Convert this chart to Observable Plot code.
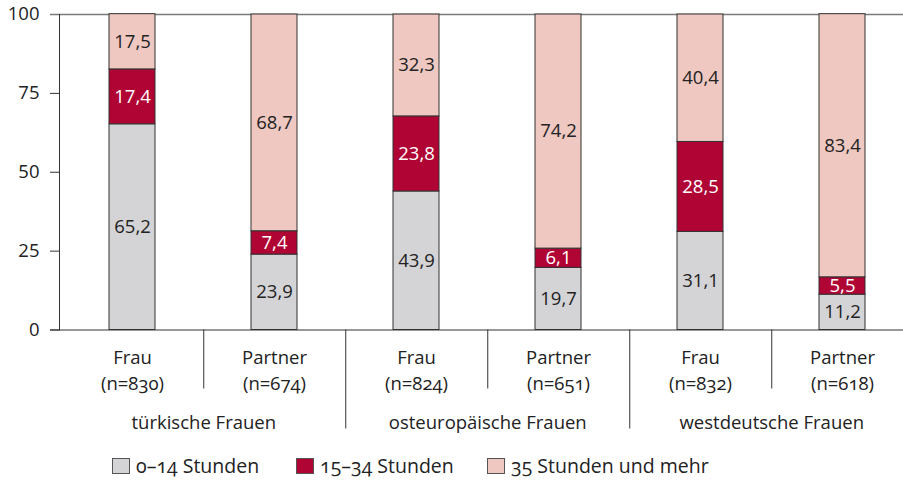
<!DOCTYPE html>
<html>
<head>
<meta charset="utf-8">
<script src="https://cdn.jsdelivr.net/npm/d3@7"></script>
<script src="https://cdn.jsdelivr.net/npm/@observablehq/plot@0.6"></script>
<style>
  html, body { margin: 0; padding: 0; background: #fff; }
  body { width: 903px; height: 480px; overflow: hidden; font-family: "Open Sans", sans-serif; color: #222; }
  .onum { font-variant-numeric: oldstyle-nums; font-feature-settings: "onum" 1; }
  #legend { position: relative; height: 35px; font-size: 19.5px; }
  .item { position: absolute; top: 3px; display: flex; align-items: center; height: 35px; }
  .sw { width: 18px; height: 16px; box-sizing: border-box; border: 1px solid #555; margin-right: 6px; }
</style>
</head>
<body>
<div id="chart"></div>
<div id="legend"></div>
<script>
const groups = ["türkische Frauen", "osteuropäische Frauen", "westdeutsche Frauen"];
const persons = ["Frau", "Partner"];
const ns = ["830", "674", "824", "651", "832", "618"];
const seriesNames = ["0–14 Stunden", "15–34 Stunden", "35 Stunden und mehr"];
const seriesColors = ["#d4d4d6", "#b00435", "#eec8c1"];
const seriesTextColors = ["#222", "#fff", "#222"];
const h0_14 = [65.2, 23.9, 43.9, 19.7, 31.1, 11.2];
const h15_34 = [17.4, 7.4, 23.8, 6.1, 28.5, 5.5];
const h35 = [17.5, 68.7, 32.3, 74.2, 40.4, 83.4];
const yTicks = [0, 25, 50, 75, 100];

const cats = [];
groups.forEach((g, gi) => persons.forEach((p, pi) => cats.push({key: g + "|" + p, group: g, person: p, n: ns[gi * 2 + pi], first: pi === 0})));
const seriesVals = [h0_14, h15_34, h35];
const data = [];
cats.forEach((c, i) => seriesVals.forEach((arr, si) => data.push({cat: c.key, s: seriesNames[si], v: arr[i]})));
const fmt = v => d3.format(".1f")(v).replace(".", ",");

const W = 903, H = 445, mTop = 14, plotBottom = 329.5;
const xRange = [59, 914];
const step = (xRange[1] - xRange[0]) / cats.length;
const font = "\"Open Sans\", sans-serif";

const chart = Plot.plot({
  width: W, height: H,
  marginLeft: 59, marginRight: 0, marginTop: mTop, marginBottom: H - plotBottom,
  style: {fontFamily: font, fontSize: "18px", color: "#222", background: "#fff"},
  x: {type: "band", domain: cats.map(c => c.key), range: xRange, paddingInner: 0.677, paddingOuter: 0.3385, axis: null},
  y: {domain: [0, 100], ticks: yTicks, label: null},
  color: {domain: seriesNames, range: seriesColors},
  marks: [
    Plot.axisY({ticks: yTicks, tickSize: 9, tickPadding: 11, label: null, stroke: "#333", fontSize: 18.5, tickFormat: d => d}),
    Plot.ruleY([100], {stroke: "#7a7a7a", strokeWidth: 1.5, insetLeft: -9}),
    Plot.barY(data, Plot.stackY({x: "cat", y: "v", z: "s", order: seriesNames, fill: "s", stroke: "#333", strokeWidth: 1})),
    Plot.text(data, Plot.stackY({x: "cat", y: "v", z: "s", order: seriesNames, text: d => fmt(d.v),
      fill: d => seriesTextColors[seriesNames.indexOf(d.s)], fontSize: 18.5})),
    Plot.frame({anchor: "left", stroke: "#333"}),
    Plot.ruleY([0], {stroke: "#333", insetLeft: -9}),
    // short separators between persons, long separators between groups
    Plot.ruleX(cats.filter(c => c.first), {x: "key", dx: step / 2, y1: 0, y2: 0, insetBottom: -59, stroke: "#333"}),
    Plot.ruleX(cats.filter(c => !c.first).slice(0, -1), {x: "key", dx: step / 2, y1: 0, y2: 0, insetBottom: -99, stroke: "#333"}),
    Plot.text(cats, {x: "key", text: "person", frameAnchor: "bottom", dy: 34, fontSize: 18.5, fill: "#222"}),
    Plot.text(cats, {x: "key", text: d => "(n=" + d.n + ")", frameAnchor: "bottom", dy: 60, fontSize: 18.5, fill: "#222", className: "onum"}),
    Plot.text(cats.filter(c => c.first), {x: "key", dx: step / 2, text: "group", frameAnchor: "bottom", dy: 99, fontSize: 18.5, fill: "#222"})
  ]
});
document.getElementById("chart").appendChild(chart);

// legend
const lg = document.getElementById("legend");
const legendLefts = [112, 296, 487];
seriesNames.forEach((s, i) => {
  const it = document.createElement("div");
  it.className = "item onum";
  it.style.left = legendLefts[i] + "px";
  it.innerHTML = `<div class="sw" style="background:${seriesColors[i]}"></div><span>${s}</span>`;
  lg.appendChild(it);
});
</script>
</body>
</html>
